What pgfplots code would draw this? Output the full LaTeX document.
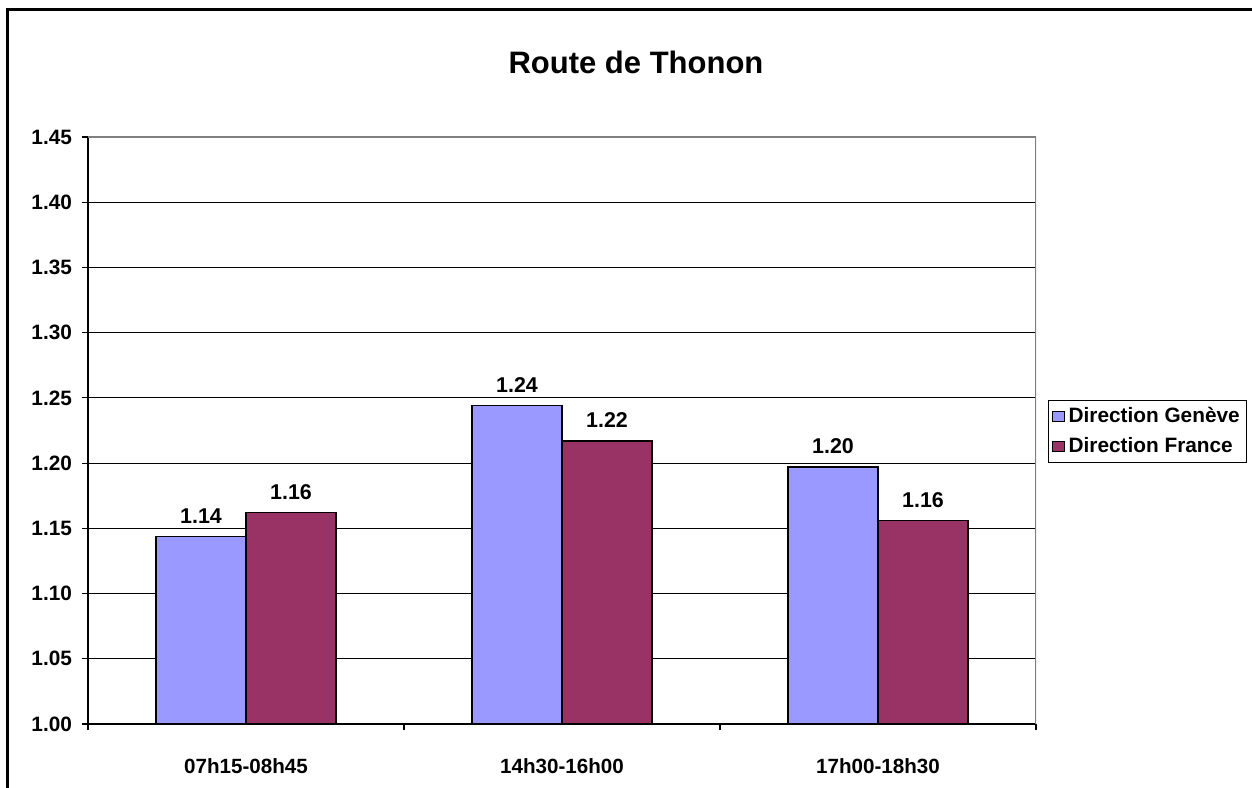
\documentclass[border=0pt]{standalone}
\usepackage{fontspec}
\setmainfont{Liberation Sans}
\usepackage{pgfplots}
\pgfplotsset{compat=1.18}
\definecolor{geneve}{HTML}{9999FF}
\definecolor{france}{HTML}{993366}
\begin{document}
\begin{tikzpicture}[x=1pt,y=1pt]
\useasboundingbox (0,0) rectangle (626,393.5);
\draw[line width=1.5pt] (3.5,-20) -- (3.5,388.5) -- (650,388.5);
\node[font=\bfseries\fontsize{15.5}{18}\selectfont] at (318,362.5) {Route de Thonon};
\begin{axis}[
  at={(44pt,31.5pt)}, anchor=south west, scale only axis,
  width=474pt, height=293.5pt,
  ybar=0pt, bar width=45pt,
  xmin=-0.5, xmax=2.5, ymin=1, ymax=1.45,
  axis lines*=left, tick align=outside,
  axis line style={line width=0.8pt, black},
  ytick={1,1.05,1.1,1.15,1.2,1.25,1.3,1.35,1.4,1.45},
  ymajorgrids, major grid style={black, line width=0.6pt},
  major tick length=3pt,
  xtick={-0.5,0.5,1.5,2.5}, xticklabels={},
  extra x ticks={0,1,2},
  extra x tick labels={07h15-08h45,14h30-16h00,17h00-18h30},
  extra x tick style={major tick length=0pt, grid=none,
     xticklabel style={yshift=-14pt, font=\bfseries\fontsize{10.3}{12}\selectfont}},
  tick style={black, line width=0.6pt},
  /pgf/number format/assume math mode=true,
  yticklabel style={/pgf/number format/.cd, fixed, fixed zerofill, precision=2, /tikz/.cd, xshift=-1.5pt},
  ticklabel style={font=\bfseries\fontsize{10.4}{12}\selectfont},
  nodes near coords,
  nodes near coords style={font=\bfseries\fontsize{10.7}{12}\selectfont,
     /pgf/number format/.cd, fixed, fixed zerofill, precision=2, /tikz/.cd,
     yshift=3pt},
  legend style={at={(1.0127,0.552)}, anchor=north west, draw=black, line width=0.6pt,
     font=\bfseries\fontsize{10.4}{12}\selectfont, inner sep=1.5pt,
     row sep=2pt, legend cell align=left},
  legend image code/.code={\draw[#1, draw=black, line width=0.5pt] (0pt,-2.5pt) rectangle (6pt,2.5pt);},
]
\addplot[fill=geneve, draw=black, line width=0.6pt] coordinates {(0,1.1435) (1,1.244) (2,1.197)};
\addplot[fill=france, draw=black, line width=0.6pt] coordinates {(0,1.162) (1,1.217) (2,1.156)};
\legend{Direction Genève, Direction France}
\draw[gray, line width=0.8pt] (rel axis cs:0,1) -- (rel axis cs:1,1) -- (rel axis cs:1,0);
\end{axis}
\end{tikzpicture}
\end{document}
